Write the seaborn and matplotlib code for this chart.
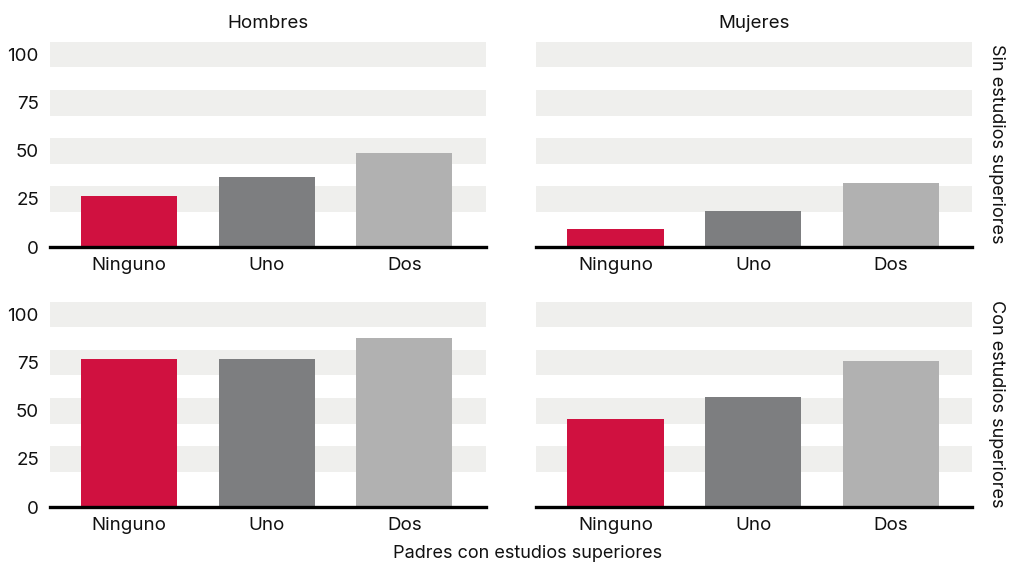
import pandas as pd
import seaborn as sns
import matplotlib.pyplot as plt

# data
padres = ["Ninguno", "Uno", "Dos"]
sexos = ["Hombres", "Mujeres"]
estudios = ["Sin estudios superiores", "Con estudios superiores"]
hombres_sin = [26.3, 36.5, 49.0]
mujeres_sin = [9.5, 18.9, 33.4]
hombres_con = [76.7, 76.7, 87.7]
mujeres_con = [45.5, 56.9, 75.7]
yticks = [0, 25, 50, 75, 100]

colores = {"Ninguno": "#D01140", "Uno": "#7D7E80", "Dos": "#B1B1B1"}

rows = []
for est, vals_h, vals_m in [(estudios[0], hombres_sin, mujeres_sin),
                            (estudios[1], hombres_con, mujeres_con)]:
    for sexo, vals in zip(sexos, [vals_h, vals_m]):
        for p, v in zip(padres, vals):
            rows.append({"estudios": est, "sexo": sexo, "padres": p, "valor": v})
df = pd.DataFrame(rows)

sns.set_style("white")
plt.rcParams['font.family'] = ['Inter', 'DejaVu Sans']

fig, axes = plt.subplots(2, 2, figsize=(10.11, 5.62), dpi=100)
fig.subplots_adjust(left=50/1011, right=972/1011, top=1-41/562, bottom=1-507/562,
                    wspace=0.117, hspace=0.262)

for i, est in enumerate(estudios):
    for j, sexo in enumerate(sexos):
        ax = axes[i, j]
        sub = df[(df.estudios == est) & (df.sexo == sexo)]
        for t in yticks[1:]:
            ax.axhspan(t - 6.7, t + 6.7, color="#EFEFED", zorder=0, lw=0)
        sns.barplot(data=sub, x="padres", y="valor", hue="padres", order=padres,
                    hue_order=padres, palette=colores, width=0.7, ax=ax,
                    legend=False, saturation=1, linewidth=0, zorder=2)
        ax.set_xlim(-0.575, 2.59)
        ax.set_ylim(0, 107)
        ax.set_xlabel("")
        ax.set_ylabel("")
        for s in ["top", "left", "right"]:
            ax.spines[s].set_visible(False)
        ax.spines["bottom"].set_color("black")
        ax.spines["bottom"].set_linewidth(2.4)
        ax.spines["bottom"].set_zorder(3)
        ax.tick_params(axis="both", length=0, labelsize=13.5, colors="#111111")
        ax.tick_params(axis="x", pad=7)
        ax.tick_params(axis="y", pad=8)
        if j == 0:
            ax.set_yticks(yticks)
        else:
            ax.set_yticks([])
        if i == 0:
            ax.set_title(sexo, fontsize=13.5, pad=9, color="#111111")
        if j == 1:
            ax.text(1.057, 0.5, est, transform=ax.transAxes, rotation=270,
                    ha="center", va="center", fontsize=13, color="#111111")

fig.text(528/1011, 1-553/562, "Padres con estudios superiores", ha="center",
         va="center", fontsize=13, color="#111111")

fig.savefig("out.png", dpi=100)
